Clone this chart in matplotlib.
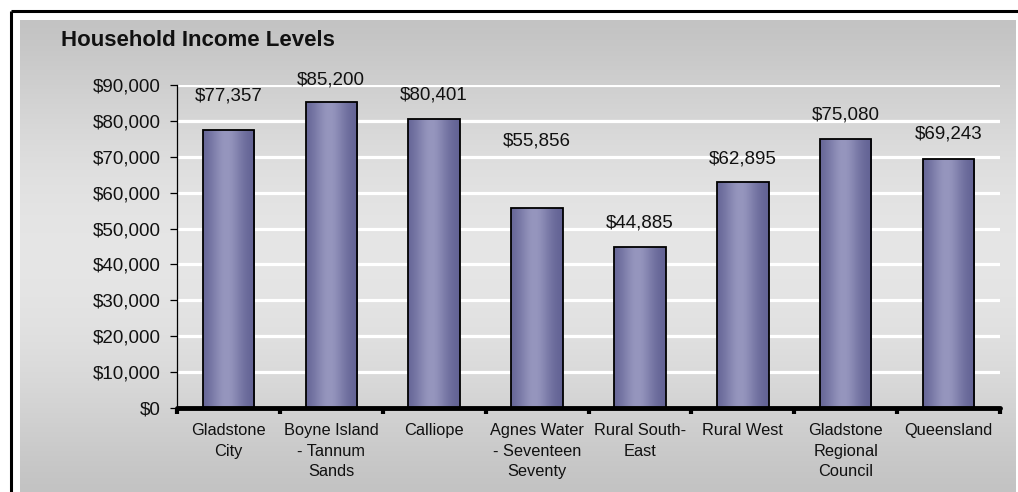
import numpy as np
import matplotlib
matplotlib.use("Agg")
import matplotlib.pyplot as plt
from matplotlib.lines import Line2D
from matplotlib.ticker import FuncFormatter, MultipleLocator

plt.rcParams['font.family'] = ['Liberation Sans', 'DejaVu Sans']

# Median household income by area
regions = ["Gladstone\nCity", "Boyne Island\n- Tannum\nSands", "Calliope",
           "Agnes Water\n- Seventeen\nSeventy", "Rural South-\nEast", "Rural West",
           "Gladstone\nRegional\nCouncil", "Queensland"]
income = [77357, 85200, 80401, 55856, 44885, 62895, 75080, 69243]

# how far each value label sits above its bar (pixels)
label_lift = [34, 22, 24, 67, 24, 23, 24, 25]

W, H = 1018, 492
fig = plt.figure(figsize=(W / 100, H / 100), dpi=100)
fig.patch.set_facecolor("white")

# grey backdrop, dark at top and bottom, light in the middle
bg = fig.add_axes([20 / W, 0, (1016 - 20) / W, (H - 20) / H], zorder=0)
t = np.linspace(0, 1, 256)
shade = 0.765 + 0.135 * np.sin(np.pi * t) ** 1.2
column = np.repeat(shade[:, None, None], 3, axis=2)
bg.imshow(np.repeat(column, 2, axis=1), aspect="auto", extent=(0, 1, 0, 1),
          interpolation="bilinear")
bg.set_axis_off()

# black frame along the top and left
fig.add_artist(Line2D([11 / W, 1.0], [1 - 11 / H, 1 - 11 / H], color="black",
                      lw=2.2, transform=fig.transFigure, solid_capstyle="butt"))
fig.add_artist(Line2D([11 / W, 11 / W], [0, 1 - 11 / H], color="black",
                      lw=2.2, transform=fig.transFigure, solid_capstyle="butt"))

ax = fig.add_axes([177 / W, 84 / H, 823 / W, 323 / H], zorder=1)
ax.patch.set_alpha(0)

x = np.arange(len(regions))

ax.yaxis.set_major_locator(MultipleLocator(10000))
ax.yaxis.set_major_formatter(FuncFormatter(lambda v, p: f"${v:,.0f}"))
ax.grid(axis="y", color="white", lw=2.3, zorder=0)
ax.set_axisbelow(True)

# purple bars with a horizontal sheen
u = np.linspace(0, 1, 200)
glow = np.exp(-((u - 0.45) / 0.32) ** 2)
dark = np.array([96, 96, 146]) / 255
light = np.array([150, 150, 190]) / 255
sheen = dark[None, :] + (light - dark)[None, :] * glow[:, None]
sheen = sheen[None, :, :]

bars = ax.bar(x, income, width=0.5, facecolor="none", edgecolor="black",
              lw=1.3, zorder=3)
for b in bars:
    x0 = b.get_x()
    img = ax.imshow(sheen, aspect="auto", interpolation="bilinear",
                    extent=(x0, x0 + b.get_width(), 0, b.get_height()), zorder=2)
    img.set_clip_path(b)
ax.set_xlim(-0.5, len(regions) - 0.5)
ax.set_ylim(0, 90000)

for xi, v, lift in zip(x, income, label_lift):
    ax.annotate(f"${v:,}", (xi, v), xytext=(0, lift), textcoords="offset pixels",
                ha="center", va="center", fontsize=13.5, color="#111111")

for side in ("top", "right"):
    ax.spines[side].set_visible(False)
ax.spines["left"].set_linewidth(0.9)
ax.spines["bottom"].set_linewidth(3.5)
ax.spines["bottom"].set_capstyle("round")

ax.set_xticks(np.arange(len(regions) + 1) - 0.5)
ax.set_xticklabels([])
ax.tick_params(axis="x", which="major", length=4, width=3, direction="out")
ax.set_xticks(x, minor=True)
ax.set_xticklabels(regions, minor=True, fontsize=11.8, linespacing=1.45,
                   color="#111111", va="top")
ax.tick_params(axis="x", which="minor", length=0, pad=11)
ax.tick_params(axis="y", length=5, width=0.9, pad=7, labelsize=13.5,
               labelcolor="#111111")

fig.text(61 / W, 1 - 40 / H, "Household Income Levels", fontsize=16,
         fontweight="bold", ha="left", va="center", color="#111111")

fig.savefig("out.png", dpi=100)
